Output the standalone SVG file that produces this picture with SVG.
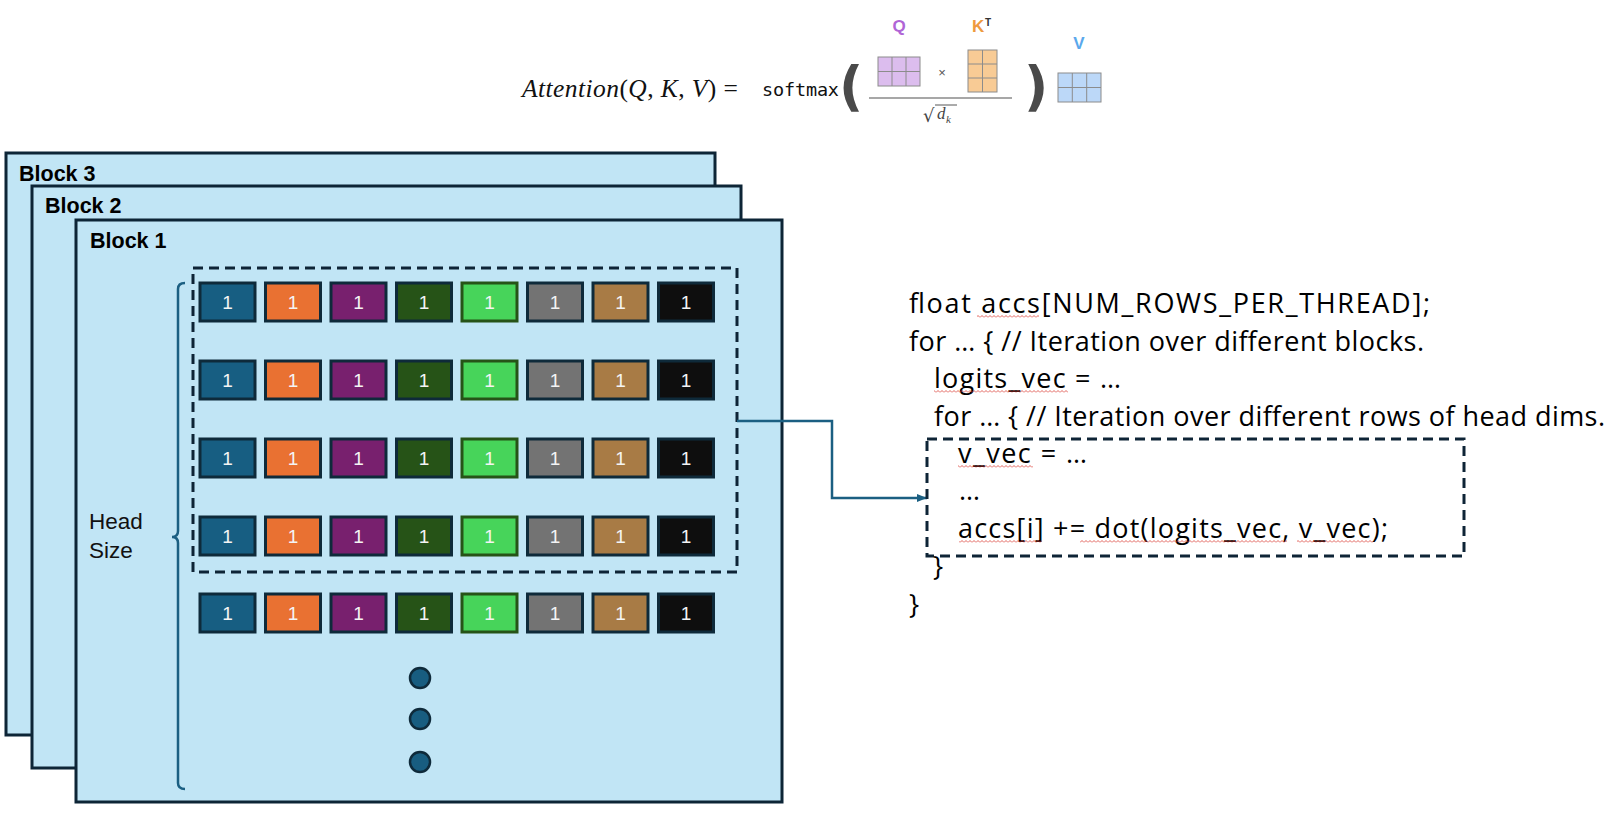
<svg xmlns="http://www.w3.org/2000/svg" width="1623" height="813" viewBox="0 0 1623 813">
<style>
.blk{fill:#c1e5f5;stroke:#0d2536;stroke-width:3}
.blbl{font-family:"Liberation Sans",Arial,sans-serif;font-weight:bold;font-size:21.5px;fill:#000}
.dash{fill:none;stroke:#0e2436;stroke-width:3;stroke-dasharray:10 6}
.c{stroke:#0e2a3a;stroke-width:3}
.ct{font-family:"Liberation Sans",Arial,sans-serif;font-size:19px;fill:#f4f4f4;text-anchor:middle}
.code{font-family:"Open Sans","Liberation Sans",sans-serif;font-size:27px;fill:#000}
.mat{stroke:#8c8c8c;stroke-width:1}
.dot{fill:#185d80;stroke:#0e2a3a;stroke-width:2.5}
</style>
<defs>
<pattern id="sq" width="4" height="3" patternUnits="userSpaceOnUse">
<path d="M0 2.5 L2 0.5 L4 2.5" fill="none" stroke="#d93a32" stroke-width="0.8"/>
</pattern>
<marker id="arr" markerWidth="10" markerHeight="8" refX="10" refY="4" orient="auto" markerUnits="userSpaceOnUse">
<path d="M0 0 L10 4 L0 8 Z" fill="#1b5f82"/>
</marker>
<g id="row">
<rect class="c" x="200" y="0" width="55" height="38" fill="#175e82"/>
<rect class="c" x="265.5" y="0" width="55" height="38" fill="#e97132"/>
<rect class="c" x="331" y="0" width="55" height="38" fill="#78206e"/>
<rect class="c" x="396.5" y="0" width="55" height="38" fill="#265317"/>
<rect x="462" y="0" width="55" height="38" fill="#47d45a" stroke="#265317" stroke-width="3"/>
<rect class="c" x="527.5" y="0" width="55" height="38" fill="#737373"/>
<rect class="c" x="593" y="0" width="55" height="38" fill="#a87b45"/>
<rect class="c" x="658.5" y="0" width="55" height="38" fill="#0e0e0e"/>
<text class="ct" x="227.5" y="26">1</text>
<text class="ct" x="293" y="26">1</text>
<text class="ct" x="358.5" y="26">1</text>
<text class="ct" x="424" y="26">1</text>
<text class="ct" x="489.5" y="26">1</text>
<text class="ct" x="555" y="26">1</text>
<text class="ct" x="620.5" y="26">1</text>
<text class="ct" x="686" y="26">1</text>
</g>
</defs>

<g id="formula">
<text x="522" y="97" font-family="Liberation Serif,serif" font-size="25.5" fill="#111" textLength="216"><tspan font-style="italic">Attention</tspan>(<tspan font-style="italic">Q</tspan>, <tspan font-style="italic">K</tspan>, <tspan font-style="italic">V</tspan>) =</text>
<text x="762" y="96" font-family="DejaVu Sans Mono,monospace" font-size="18.5" fill="#111" textLength="77">softmax</text>
<text x="839" y="105" font-family="DejaVu Sans,sans-serif" font-size="53" font-weight="bold" fill="#4a4a4a">(</text>
<text x="1024" y="105" font-family="DejaVu Sans,sans-serif" font-size="53" font-weight="bold" fill="#4a4a4a">)</text>
<line x1="869" y1="98" x2="1012" y2="98" stroke="#8a8a8a" stroke-width="1.5"/>
<g id="qmat">
<rect class="mat" x="878" y="57" width="42" height="29" fill="#dcbdee"/>
<path class="mat" d="M892 57V86M906 57V86M878 71.5H920"/>
</g>
<g id="kmat">
<rect class="mat" x="968" y="50" width="29" height="42" fill="#f8cb95"/>
<path class="mat" d="M982.5 50V92M968 64H997M968 78H997"/>
</g>
<g id="vmat">
<rect class="mat" x="1058" y="73" width="43" height="29" fill="#bcd8f8"/>
<path class="mat" d="M1072.3 73V102M1086.7 73V102M1058 87.5H1101"/>
</g>
<text x="942" y="77" font-family="Liberation Sans,sans-serif" font-size="13" fill="#555" text-anchor="middle">×</text>
<text x="899" y="32" font-family="Liberation Sans,sans-serif" font-size="17" font-weight="bold" fill="#b065d6" text-anchor="middle">Q</text>
<text x="972" y="32" font-family="Liberation Sans,sans-serif" font-size="17" font-weight="bold" fill="#ee9a3e">K</text>
<text x="985" y="26" font-family="Liberation Sans,sans-serif" font-size="10" font-weight="bold" fill="#333">T</text>
<text x="1079" y="49" font-family="Liberation Sans,sans-serif" font-size="17" font-weight="bold" fill="#5aa8ec" text-anchor="middle">V</text>
<text x="923" y="122" font-family="DejaVu Sans,sans-serif" font-size="18" fill="#444">√</text>
<line x1="935" y1="105" x2="957" y2="105" stroke="#444" stroke-width="0.9"/>
<text x="937" y="119" font-family="Liberation Serif,serif" font-style="italic" font-size="17" fill="#444">d</text>
<text x="946" y="123" font-family="Liberation Serif,serif" font-style="italic" font-size="11" fill="#444">k</text>
</g>

<g id="block3">
<rect class="blk" x="6" y="153" width="709" height="582"/>
<text class="blbl" x="19" y="181">Block 3</text>
</g>
<g id="block2">
<rect class="blk" x="32" y="186" width="709" height="582"/>
<text class="blbl" x="45" y="213">Block 2</text>
</g>
<g id="block1">
<rect class="blk" x="76" y="220" width="706" height="582"/>
<text class="blbl" x="90" y="248">Block 1</text>
<text font-family="Liberation Sans,Arial,sans-serif" font-size="22.5" fill="#111"><tspan x="89" y="529">Head</tspan><tspan x="89" y="558">Size</tspan></text>
<path d="M185 283 Q178 283 178 289 V531 Q178 537 172 537 Q178 537 178 543 V783 Q178 789 185 789" fill="none" stroke="#1b5f82" stroke-width="2.5"/>
<rect class="dash" x="193" y="268" width="544" height="304"/>
<use href="#row" y="283"/>
<use href="#row" y="361"/>
<use href="#row" y="439"/>
<use href="#row" y="517"/>
<use href="#row" y="594"/>
<circle class="dot" cx="420" cy="678" r="10"/>
<circle class="dot" cx="420" cy="719" r="10"/>
<circle class="dot" cx="420" cy="762" r="10"/>
</g>

<g id="connectors">
<path d="M737 421 H832 V498 H927" fill="none" stroke="#1b5f82" stroke-width="2.5" marker-end="url(#arr)"/>
</g>

<g id="code">
<rect class="dash" x="927" y="439" width="537" height="117"/>
<text class="code" x="909" y="313" textLength="521">float accs[NUM_ROWS_PER_THREAD];</text>
<text class="code" x="909" y="351" textLength="515">for … { // Iteration over different blocks.</text>
<text class="code" x="934" y="388" textLength="187">logits_vec = …</text>
<text class="code" x="934" y="426" textLength="671">for … { // Iteration over different rows of head dims.</text>
<text class="code" x="958" y="463" textLength="129">v_vec = …</text>
<text class="code" x="959" y="500" textLength="23">…</text>
<text class="code" x="958" y="538" textLength="430">accs[i] += dot(logits_vec, v_vec);</text>
<text class="code" x="933" y="576">}</text>
<text class="code" x="909" y="614">}</text>
<rect x="977" y="315" width="62" height="3" fill="url(#sq)"/>
<rect x="934" y="390" width="134" height="3" fill="url(#sq)"/>
<rect x="958" y="465" width="75" height="3" fill="url(#sq)"/>
<rect x="959" y="540" width="83" height="3" fill="url(#sq)"/>
<rect x="1080" y="540" width="207" height="3" fill="url(#sq)"/>
<rect x="1297" y="540" width="76" height="3" fill="url(#sq)"/>
</g>
</svg>
